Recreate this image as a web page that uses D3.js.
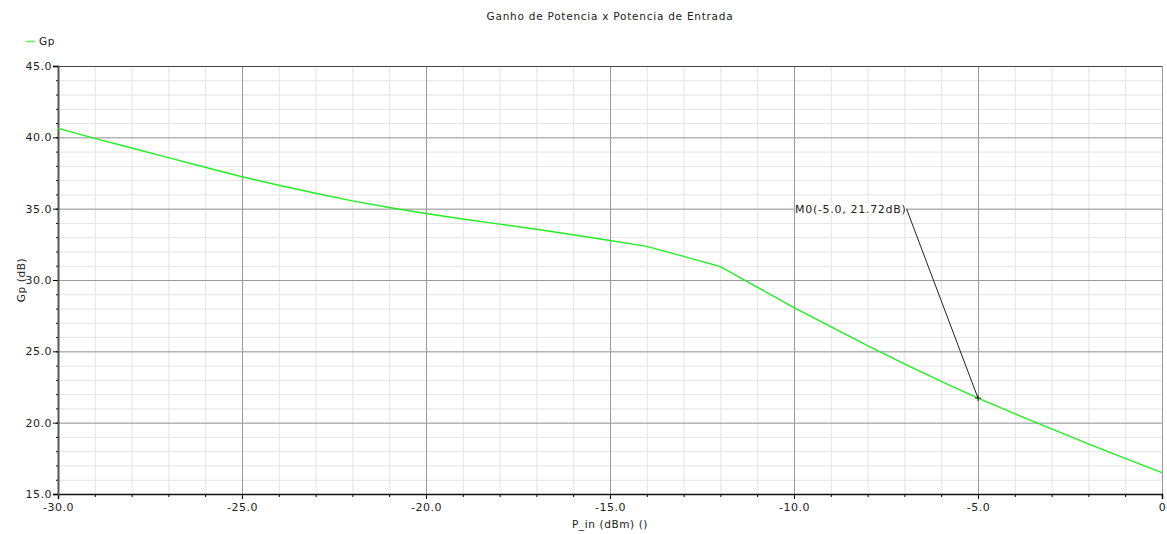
<!DOCTYPE html>
<html>
<head>
<meta charset="utf-8">
<script src="https://cdn.jsdelivr.net/npm/d3@7"></script>
<style>
  body { margin: 0; background: #fff; }
  text { font-family: "DejaVu Sans", sans-serif; fill: #222; }
</style>
</head>
<body>
<div id="chart"></div>
<script>
var width = 1167;
var height = 534;
var margin = {left: 58, top: 66, right: 5, bottom: 40};

// P_in (dBm) and Gp (dB)
var pin = [-30, -29, -28, -27, -26, -25, -24, -23, -22, -21, -20, -19, -18, -17, -16, -15,
           -14, -13, -12, -11, -10, -9, -8, -7, -6, -5, -4, -3, -2, -1, 0];
var gp = [40.63, 39.93, 39.25, 38.58, 37.9, 37.24, 36.64, 36.08, 35.55, 35.08, 34.66, 34.28, 33.92, 33.56, 33.17, 32.77,
          32.36, 31.66, 30.94, 29.5, 28.07, 26.73, 25.4, 24.12, 22.9, 21.72, 20.63, 19.56, 18.52, 17.5, 16.5];
var xTicks = [-30, -25, -20, -15, -10, -5, 0];
var yTicks = [15, 20, 25, 30, 35, 40, 45];
var marker = {x: -5, y: 21.72, label: "M0(-5.0, 21.72dB)", lx: -10, ly: 35};

var svg = d3.select("#chart").append("svg")
  .attr("width", width)
  .attr("height", height);

var xScale = d3.scaleLinear().domain([-30, 0]).range([margin.left, width - margin.right]);
var yScale = d3.scaleLinear().domain([15, 45]).range([height - margin.bottom, margin.top]);

var xMinor = d3.range(-30, 0.01, 1);
var yMinor = d3.range(15, 45.01, 1);

// minor grid
svg.append("g").selectAll("line").data(xMinor).enter().append("line")
  .attr("x1", d => xScale(d) + 0.5).attr("x2", d => xScale(d) + 0.5)
  .attr("y1", yScale(45)).attr("y2", yScale(15))
  .attr("stroke", "#e4e4e4").attr("stroke-width", 1);
svg.append("g").selectAll("line").data(yMinor).enter().append("line")
  .attr("y1", d => yScale(d) + 0.5).attr("y2", d => yScale(d) + 0.5)
  .attr("x1", xScale(-30)).attr("x2", xScale(0))
  .attr("stroke", "#e4e4e4").attr("stroke-width", 1);

// major grid
svg.append("g").selectAll("line").data(xTicks).enter().append("line")
  .attr("x1", d => xScale(d) + 0.5).attr("x2", d => xScale(d) + 0.5)
  .attr("y1", yScale(45)).attr("y2", yScale(15))
  .attr("stroke", "#9a9a9a").attr("stroke-width", 1);
svg.append("g").selectAll("line").data(yTicks).enter().append("line")
  .attr("y1", d => yScale(d) + 0.5).attr("y2", d => yScale(d) + 0.5)
  .attr("x1", xScale(-30)).attr("x2", xScale(0))
  .attr("stroke", "#9a9a9a").attr("stroke-width", 1);

// top border
svg.append("line")
  .attr("x1", xScale(-30)).attr("x2", xScale(0))
  .attr("y1", yScale(45) + 0.5).attr("y2", yScale(45) + 0.5)
  .attr("stroke", "#444");

// axes
var xAxis = d3.axisBottom(xScale).tickValues(xTicks).tickSize(5).tickPadding(4)
  .tickFormat(d => d === 0 ? "0" : d.toFixed(1));
var xAxisMinor = d3.axisBottom(xScale).tickValues(xMinor).tickSize(3).tickFormat("");
var yAxis = d3.axisLeft(yScale).tickValues(yTicks).tickSize(5).tickPadding(1)
  .tickFormat(d => d.toFixed(1));
var yAxisMinor = d3.axisLeft(yScale).tickValues(yMinor).tickSize(2).tickFormat("");

svg.append("g").attr("transform", "translate(0," + yScale(15) + ")").call(xAxisMinor)
  .call(g => g.select(".domain").remove());
var gx = svg.append("g").attr("transform", "translate(0," + yScale(15) + ")").call(xAxis);
gx.select(".domain").attr("stroke", "#111").attr("stroke-width", 1.5);
gx.selectAll("text").attr("font-size", "11px").attr("letter-spacing", "0.5px").attr("fill", "#222");

svg.append("g").attr("transform", "translate(" + xScale(-30) + ",0)").call(yAxisMinor)
  .call(g => g.select(".domain").remove());
var gy = svg.append("g").attr("transform", "translate(" + xScale(-30) + ",0)").call(yAxis);
gy.select(".domain").attr("stroke", "#555").attr("stroke-width", 2);
gy.selectAll("text").attr("font-size", "11px").attr("letter-spacing", "0.5px").attr("fill", "#222");

// data line
var line = d3.line().x((d, i) => xScale(pin[i])).y(d => yScale(d));
svg.append("path")
  .datum(gp)
  .attr("d", line)
  .attr("fill", "none")
  .attr("stroke", "#22ee22")
  .attr("stroke-width", 1.4);

// marker
var mx = xScale(marker.x), my = yScale(marker.y);
var lab = svg.append("text")
  .attr("x", xScale(marker.lx) + 1)
  .attr("y", yScale(marker.ly))
  .attr("dy", "0.35em")
  .attr("font-size", "11px")
  .attr("letter-spacing", "0.7px")
  .attr("fill", "#111")
  .text(marker.label);
var bb = lab.node().getBBox();
svg.insert("rect", function() { return lab.node(); })
  .attr("x", bb.x).attr("y", bb.y + 1)
  .attr("width", bb.width).attr("height", bb.height - 2)
  .attr("fill", "#fff");
svg.append("line")
  .attr("x1", bb.x + bb.width).attr("y1", yScale(marker.ly))
  .attr("x2", mx).attr("y2", my)
  .attr("stroke", "#222").attr("stroke-width", 1);
svg.append("line")
  .attr("x1", mx - 3).attr("x2", mx + 3).attr("y1", my).attr("y2", my)
  .attr("stroke", "#222");
svg.append("line")
  .attr("x1", mx).attr("x2", mx).attr("y1", my - 3).attr("y2", my + 3)
  .attr("stroke", "#222");

// title
svg.append("text")
  .attr("x", (xScale(-30) + xScale(0)) / 2)
  .attr("y", 20)
  .attr("text-anchor", "middle")
  .attr("font-size", "10.5px")
  .attr("letter-spacing", "0.75px")
  .text("Ganho de Potencia x Potencia de Entrada");

// legend
svg.append("line")
  .attr("x1", 26).attr("x2", 35).attr("y1", 41.5).attr("y2", 41.5)
  .attr("stroke", "#66ee66").attr("stroke-width", 1.5);
svg.append("text")
  .attr("x", 39).attr("y", 45)
  .attr("font-size", "10.5px")
  .attr("letter-spacing", "0.5px")
  .text("Gp");

// axis labels
svg.append("text")
  .attr("x", (xScale(-30) + xScale(0)) / 2)
  .attr("y", 528)
  .attr("text-anchor", "middle")
  .attr("font-size", "10.5px")
  .attr("letter-spacing", "0.6px")
  .text("P_in (dBm) ()");
svg.append("text")
  .attr("transform", "translate(25," + (yScale(30)) + ") rotate(-90)")
  .attr("text-anchor", "middle")
  .attr("font-size", "10.5px")
  .attr("letter-spacing", "0.6px")
  .text("Gp (dB)");
</script>
</body>
</html>
